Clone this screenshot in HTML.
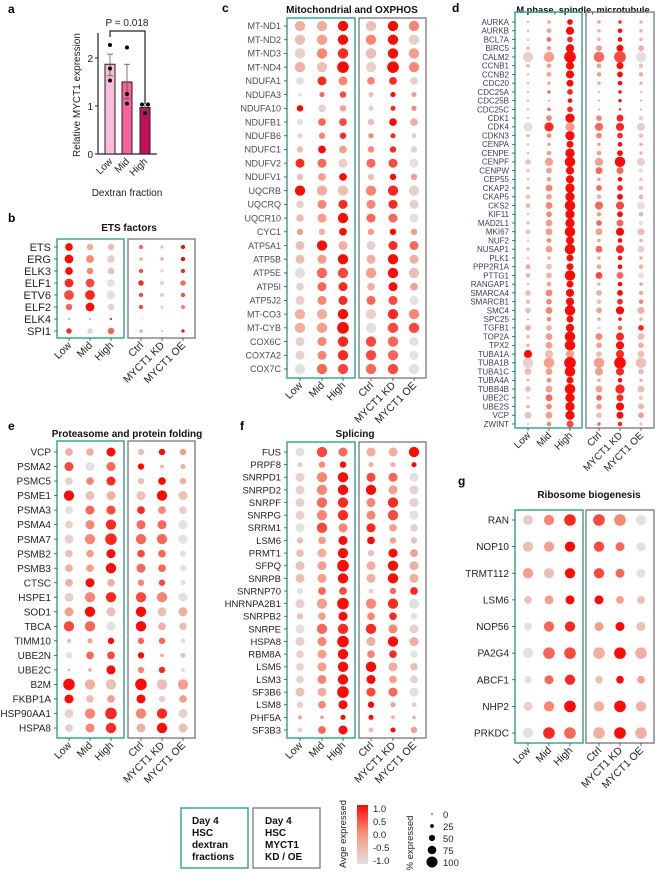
<!DOCTYPE html>
<html><head><meta charset="utf-8"><style>
html,body{margin:0;padding:0;background:#fff;}
svg{display:block;font-family:"Liberation Sans",Arial,sans-serif;}
</style></head><body>
<svg id="fig" width="656" height="874" viewBox="0 0 656 874" xmlns="http://www.w3.org/2000/svg"></svg>
<script>
// ---------- Panel a data ----------
const barCats=["Low","Mid","High"];
const barMeans=[1.87,1.5,0.97];
const barErrHi=[2.08,1.87,1.02];
const barErrLo=[1.63,1.15,0.92];
const barPoints=[[2.27,1.78,1.53],[2.22,1.25,1.05],[1.03,1.03,0.85]];
const barTicks=[0,1,2];
// ---------- Dot plot data: colour digit 0(grey)..9(red), size digit 0..9 per column Low,Mid,High,Ctrl,KD,OE ----------
const colCats=["Low","Mid","High","Ctrl","MYCT1 KD","MYCT1 OE"];
const bGenes=["ETS","ERG","ELK3","ELF1","ETV6","ELF2","ELK4","SPI1"];
const bColor=["932629","951449","952718","870816","780717","691715","449613","816439"];
const bSize=["655323","766223","655323","776434","887333","575323","111000","445212"];
const cGenes=["MT-ND1","MT-ND2","MT-ND3","MT-ND4","NDUFA1","NDUFA3","NDUFA10","NDUFB1","NDUFB6","NDUFC1","NDUFV2","NDUFV1","UQCRB","UQCRQ","UQCR10","CYC1","ATP5A1","ATP5B","ATP5E","ATP5I","ATP5J2","MT-CO3","MT-CYB","COX6C","COX7A2","COX7C"];
const cColor=["339295","249591","158294","329195","085581","067294","914185","067293","158581","294581","861670","249294","932581","158581","249660","439494","293186","249393","067492","168394","158670","339185","349077","158760","158760","067670"];
const cSize=["777777","777777","777777","778787","566555","234333","454333","455455","344333","455444","666666","455444","777777","566666","567666","445444","676666","667676","777777","566565","666666","777777","778777","667776","667776","777777"];
const dGenes=["AURKA","AURKB","BCL7A","BIRC5","CALM2","CCNB1","CCNB2","CDC20","CDC25A","CDC25B","CDC25C","CDK1","CDK4","CDKN3","CENPA","CENPE","CENPF","CENPW","CEP55","CKAP2","CKAP5","CKS2","KIF11","MAD2L1","MKI67","NUF2","NUSAP1","PLK1","PPP2R1A","PTTG1","RANGAP1","SMARCA4","SMARCB1","SMC4","SPC25","TGFB1","TOP2A","TPX2","TUBA1A","TUBA1B","TUBA1C","TUBA4A","TUBB4B","UBE2C","UBE2S","VCP","ZWINT"];
const dColor=["349483","349393","068393","349493","149670","349492","349493","349493","368393","339393","368393","359581","084681","359582","349493","349493","249491","249660","349492","359682","249393","359670","359493","249660","249492","359493","249681","339493","429493","339760","349394","259393","259285","259493","359493","339068","349582","349493","924282","149492","249482","259493","249482","369681","359493","249294","257681"];
const dSize=["124222","136232","234232","236454","889898","236353","136343","125232","124121","113121","124111","147453","777666","237443","125232","137342","468686","246553","136232","257443","347343","358666","147343","257453","358565","136232","258565","125232","345333","348554","135232","456443","346343","458465","135222","446234","258565","258464","666465","889898","558664","235232","458575","157453","247464","557454","135232"];
const eGenes=["VCP","PSMA2","PSMC5","PSME1","PSMA3","PSMA4","PSMA7","PSMB2","PSMB3","CTSC","HSPE1","SOD1","TBCA","TIMM10","UBE2N","UBE2C","B2M","FKBP1A","HSP90AA1","HSPA8"];
const eColor=["339294","706933","158293","923292","067851","158660","158660","249760","349660","393570","158750","492923","760932","349660","067932","339581","932924","924914","158581","158392"];
const eSize=["556444","666423","556454","766676","566555","567666","678776","556554","557654","565443","677776","676766","776755","234443","455423","126442","877877","655645","678776","567676"];
const fGenes=["FUS","PRPF8","SNRPD1","SNRPD2","SNRPF","SNRPG","SRRM1","LSM6","PRMT1","SFPQ","SNRPB","SNRNP70","HNRNPA2B1","SNRPB2","SNRPE","HSPA8","RBM8A","LSM5","LSM3","SF3B6","LSM8","PHF5A","SF3B3"];
const fColor=["076339","159339","159760","159941","168581","158570","075841","249942","239294","249393","249393","067168","149580","249580","068851","159393","149580","149932","159941","239760","159941","449933","169294"];
const fSize=["676667","344333","677666","677766","677676","677676","676655","456544","567465","668676","667676","455345","678777","456554","677766","668676","567555","567765","567655","668666","456433","223322","356334"];
const gGenes=["RAN","NOP10","TRMT112","LSM6","NOP56","PA2G4","ABCF1","NHP2","PRKDC"];
const gColor=["158750","249760","429760","249942","068492","067393","068294","159393","086393"];
const gSize=["778887","777766","777766","566655","577666","788888","567555","678787","788888"];
// legend data
const legColorTicks=["1.0","0.5","0.0","-0.5","-1.0"];
const legSizeTicks=[0,25,50,75,100];

const NS="http://www.w3.org/2000/svg";
const svg=document.getElementById('fig');
function mk(tag,attrs,parent){const e=document.createElementNS(NS,tag);for(const k in attrs)e.setAttribute(k,attrs[k]);(parent||svg).appendChild(e);return e;}
function txt(s,attrs,parent){const e=mk('text',attrs,parent);e.textContent=s;return e;}
function colOf(c){const t=c/9;const a=[226,224,224],m=[248,150,130],b=[255,10,5];let r;
 if(t<0.5){const u=t/0.5;r=a.map((v,i)=>v+(m[i]-v)*u);}else{const u=(t-0.5)/0.5;r=m.map((v,i)=>v+(b[i]-v)*u);}
 return `rgb(${r.map(Math.round).join(',')})`;}
function radOf(s){return 0.6+0.65*s;}

// ---------- Panel a ----------
(function(){
 const g=mk('g',{});
 
 txt('a',{x:8,y:13,'font-size':12,'font-weight':'bold'},g);
 const x0=98,y0=154,pu=48;const yS=v=>y0-v*pu;const xs=[110,127,145];const fills=['#f9bcd9','#f4649a','#c70e5c'];
 mk('line',{x1:x0,y1:33,x2:x0,y2:y0,stroke:'#222','stroke-width':1.2},g);
 mk('line',{x1:x0,y1:y0,x2:157,y2:y0,stroke:'#222','stroke-width':1.2},g);
 barTicks.forEach(t=>{mk('line',{x1:x0-3,y1:yS(t),x2:x0,y2:yS(t),stroke:'#222'},g);
  const l=txt(String(t),{x:x0-5,y:yS(t)+4,'font-size':10,'text-anchor':'end',fill:'#222'},g);});
 barCats.forEach((c,i)=>{const r=mk('rect',{x:xs[i]-5,y:yS(barMeans[i]),width:10,height:barMeans[i]*pu,fill:fills[i],stroke:'#222','stroke-width':1},g);
  
  mk('line',{x1:xs[i],y1:yS(barErrHi[i]),x2:xs[i],y2:yS(barErrLo[i]),stroke:'#555','stroke-width':0.8},g);
  mk('line',{x1:xs[i]-3,y1:yS(barErrHi[i]),x2:xs[i]+3,y2:yS(barErrHi[i]),stroke:'#555','stroke-width':0.8},g);
  mk('line',{x1:xs[i]-3,y1:yS(barErrLo[i]),x2:xs[i]+3,y2:yS(barErrLo[i]),stroke:'#555','stroke-width':0.8},g);
  barPoints[i].forEach((p,j)=>{const off=(barPoints[i].filter(q=>Math.abs(q-p)<0.06).length>1)?(j===0?-3:3):0;
   const d=mk('circle',{cx:xs[i]+off,cy:yS(p),r:2,fill:'#000'},g);});
  const tl=txt(c,{transform:`translate(${xs[i]+3},${y0+8}) rotate(-45)`,'font-size':10,'text-anchor':'end',fill:'#222'},g);
  });
 mk('path',{d:`M${xs[0]} 37 V31 H${xs[2]} V104`,fill:'none',stroke:'#222','stroke-width':1.2},g);
 txt('P = 0.018',{x:127,y:26,'font-size':10,'text-anchor':'middle',fill:'#222'},g);
 txt('Relative MYCT1 expression',{transform:'translate(80,95) rotate(-90)','font-size':10,'text-anchor':'middle',fill:'#222'},g);
 txt('Dextran fraction',{x:127,y:196,'font-size':10,'text-anchor':'middle',fill:'#222'},g);
})();

// ---------- Dot plots ----------
function dotplot(cfg,genes,colors,sizes){
 const g=mk('g',{});
 
 const lab=txt(cfg.letter,{x:cfg.lx,y:cfg.ly,'font-size':12,'font-weight':'bold'},g);
 
 const tt=txt(cfg.title,{x:cfg.tx,y:cfg.ty,'font-size':cfg.tfs||10,'font-weight':'bold','text-anchor':'middle',fill:'#111'},g);
 
 const n=genes.length;const step=(cfg.yLast-cfg.yFirst)/(n-1);const yS=i=>cfg.yFirst+i*step;
 const b1=mk('rect',{x:cfg.bx[0],y:cfg.top,width:cfg.bx[1]-cfg.bx[0],height:cfg.bot-cfg.top,fill:'none',stroke:'#3aa893','stroke-width':1.5},g);
 
 const b2=mk('rect',{x:cfg.bx[2],y:cfg.top,width:cfg.bx[3]-cfg.bx[2],height:cfg.bot-cfg.top,fill:'none',stroke:'#888','stroke-width':1.5},g);
 
 genes.forEach((gn,i)=>{
  const l=txt(gn,{x:cfg.bx[0]-6,y:yS(i)+cfg.fs*0.36,'font-size':cfg.fs,'text-anchor':'end',fill:cfg.lc},g);
  
  mk('line',{x1:cfg.bx[0]-3,y1:yS(i),x2:cfg.bx[0],y2:yS(i),stroke:'#444','stroke-width':0.8},g);
  for(let j=0;j<6;j++){const c=+colors[i][j],s=+sizes[i][j];
   const d=mk('circle',{cx:cfg.cx[j],cy:yS(i),r:radOf(s)*(cfg.rs||1),fill:colOf(c)},g);
   
   }
 });
 colCats.forEach((c,j)=>{mk('line',{x1:cfg.cx[j],y1:cfg.bot,x2:cfg.cx[j],y2:cfg.bot+3,stroke:'#444','stroke-width':0.8},g);
  const t=txt(c,{transform:`translate(${cfg.cx[j]+3},${cfg.bot+8}) rotate(-45)`,'font-size':cfg.xfs||10.5,'text-anchor':'end',fill:'#222'},g);
  });
}
dotplot({name:'panel-b-ets-factors',letter:'b',lx:8,ly:222,title:'ETS factors',tx:129,ty:231,top:239,bot:338,bx:[57,124,128,195],cx:[69,90,111,141,162,183],yFirst:247,yLast:331,fs:11,lc:'#222',rs:0.85},bGenes,bColor,bSize);
dotplot({name:'panel-c-mitochondrial-oxphos',letter:'c',lx:222,ly:12,title:'Mitochondrial and OXPHOS',tx:352,ty:13,top:18,bot:378,bx:[287,355,359,426],cx:[300,322,343,371,393,414],yFirst:26,yLast:369,fs:9,lc:'#4a4a5c'},cGenes,cColor,cSize);
dotplot({name:'panel-d-m-phase',letter:'d',lx:452,ly:12,title:'M phase, spindle, microtubule',tx:583,ty:13,tfs:9.3,top:12,bot:428,bx:[515,582,586,654],cx:[528,549,570,599,620,641],yFirst:22,yLast:424,fs:8,lc:'#3a3a5e',rs:0.9,xfs:10},dGenes,dColor,dSize);
dotplot({name:'panel-e-proteasome',letter:'e',lx:8,ly:430,title:'Proteasome and protein folding',tx:127,ty:437,top:441,bot:738,bx:[57,124,128,195],cx:[69,90,111,141,162,183],yFirst:452,yLast:728,fs:10,lc:'#222'},eGenes,eColor,eSize);
dotplot({name:'panel-f-splicing',letter:'f',lx:240,ly:430,title:'Splicing',tx:355,ty:437,top:442,bot:738,bx:[287,355,359,426],cx:[300,322,343,371,393,414],yFirst:452,yLast:730,fs:9.5,lc:'#222'},fGenes,fColor,fSize);
dotplot({name:'panel-g-ribosome',letter:'g',lx:458,ly:485,title:'Ribosome biogenesis',tx:589,ty:498,top:510,bot:743,bx:[515,583,586,654],cx:[528,549,570,599,620,641],yFirst:520,yLast:733,fs:10,lc:'#222'},gGenes,gColor,gSize);

// ---------- Legends ----------
(function(){
 const g=mk('g',{});
 const r1=mk('rect',{x:181,y:808,width:67,height:60,fill:'none',stroke:'#3aa893','stroke-width':1.5},g);
 
 const r2=mk('rect',{x:253,y:808,width:67,height:60,fill:'none',stroke:'#888','stroke-width':1.5},g);
 
 ['Day 4','HSC','dextran','fractions'].forEach((s,i)=>txt(s,{x:192,y:824+i*12,'font-size':10,'font-weight':'bold',fill:'#111'},g));
 ['Day 4','HSC','MYCT1','KD / OE'].forEach((s,i)=>txt(s,{x:265,y:824+i*12,'font-size':10,'font-weight':'bold',fill:'#111'},g));
 const defs=mk('defs',{},g);const lg=mk('linearGradient',{id:'cb',x1:0,y1:1,x2:0,y2:0},defs);
 for(let k=0;k<=9;k++)mk('stop',{offset:k/9,'stop-color':colOf(k)},lg);
 const cb=mk('rect',{x:357,y:805,width:11,height:59,fill:'url(#cb)'},g);
 legColorTicks.forEach((s,i)=>txt(s,{x:373,y:812+i*13,'font-size':9.5,fill:'#222'},g));
 txt('Avge expressed',{transform:'translate(346,834) rotate(-90)','font-size':9.5,'text-anchor':'middle',fill:'#222'},g);
 txt('% expressed',{transform:'translate(413,843) rotate(-90)','font-size':9.5,'text-anchor':'middle',fill:'#222'},g);
 legSizeTicks.forEach((v,i)=>{const c=mk('circle',{cx:432,cy:814+i*12,r:0.7+v/100*4.8,fill:'#000'},g);
  
  txt(String(v),{x:443,y:818+i*12,'font-size':9.5,fill:'#222'},g);});
})();
</script>
</body></html>
